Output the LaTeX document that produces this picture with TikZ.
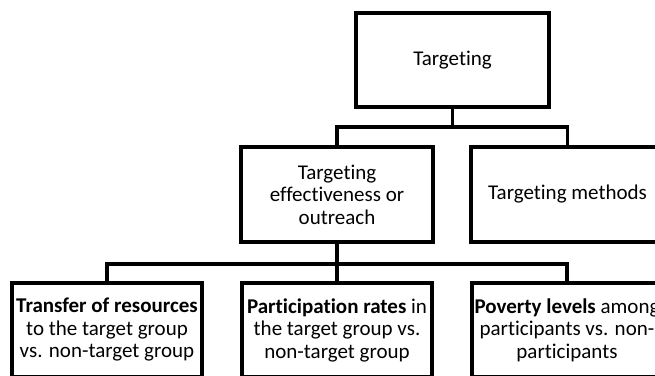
\documentclass[tikz,border=0pt]{standalone}
\usepackage{fontspec}
\setmainfont{Carlito}[Ligatures=NoCommon]
\begin{document}
\begin{tikzpicture}[x=1pt,y=-1pt,
  box/.style={draw=black,line width=3.6pt,fill=white,inner sep=0pt,outer sep=0pt,
    align=center,font=\fontsize{21}{22.5}\selectfont,line join=miter},
  conn/.style={draw=black,line width=3.6pt,line join=miter}]
\clip (0,0) rectangle (655,375);
\fill[white] (0,0) rectangle (655,375);
\node[box,minimum width=193pt,minimum height=94pt] (top) at (452.5,60) {Targeting};
\node[box,minimum width=192pt,minimum height=95pt] (eff) at (337,194.5) {Targeting\\effectiveness or\\outreach};
\node[box,minimum width=193pt,minimum height=95pt] (meth) at (567.5,194.5) {Targeting methods};
\node[box,minimum width=190pt,minimum height=94pt] (tr) at (107,330) {\textbf{Transfer of resources}\\to the target group\\vs. non-target group};
\node[box,minimum width=190pt,minimum height=94pt] (pa) at (337,330) {\textbf{Participation rates} in\\the target group vs.\\non-target group};
\node[box,minimum width=190pt,minimum height=94pt] (po) at (567,330) {\textbf{Poverty levels} among\\participants vs. non-\\participants};
\coordinate (b1) at (452.5,127);
\coordinate (b2) at (337,264);
\draw[conn] (top.south) -- (b1);
\draw[conn] (eff.north) |- (b1) -| (meth.north);
\draw[conn] (eff.south) -- (b2);
\draw[conn] (tr.north) |- (b2) -| (po.north);
\draw[conn] (b2) -- (pa.north);
\end{tikzpicture}
\end{document}
